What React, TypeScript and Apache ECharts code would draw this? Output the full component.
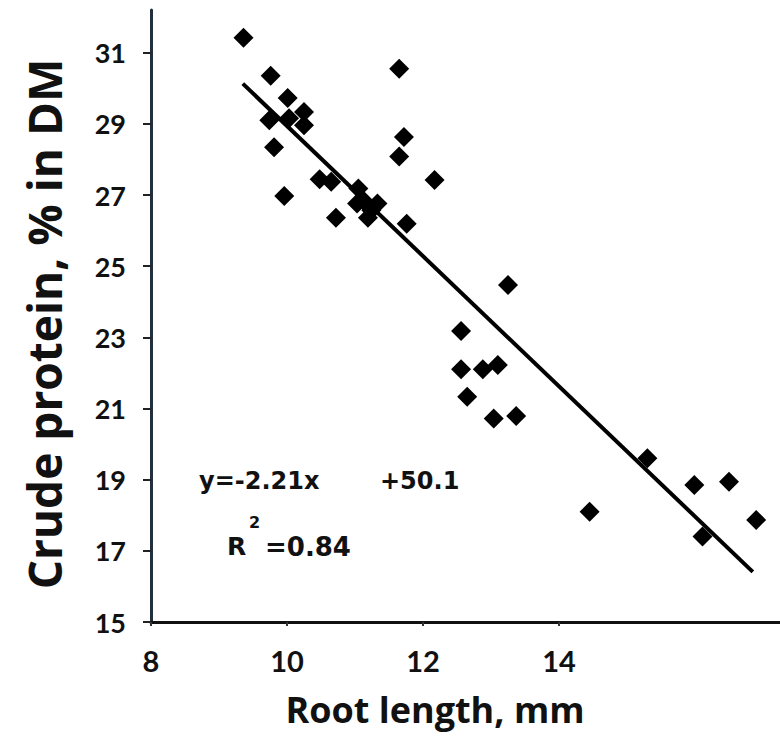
import React, { useEffect, useRef } from "react";
import * as echarts from "echarts";

// Root length (mm) vs crude protein (% in DM)
const rootLength = [
  9.36, 9.76, 11.65, 10.01, 10.25, 9.74, 10.25, 10.03, 9.81, 11.72, 11.65,
  10.48, 10.65, 9.96, 11.05, 12.17, 11.03, 11.33, 11.19, 10.72, 11.76, 11.12,
  11.24, 13.25, 12.56, 12.56, 12.88, 13.1, 12.65, 13.04, 13.37, 15.3, 15.99,
  16.5, 14.45, 16.9, 16.11,
];
const crudeProtein = [
  31.42, 30.35, 30.55, 29.73, 29.33, 29.1, 28.96, 29.16, 28.34, 28.63, 28.08,
  27.44, 27.37, 26.97, 27.18, 27.42, 26.76, 26.76, 26.36, 26.36, 26.19, 26.85,
  26.57, 24.47, 23.18, 22.1, 22.1, 22.22, 21.33, 20.72, 20.79, 19.6, 18.85,
  18.94, 18.1, 17.87, 17.4,
];
// Regression line as drawn (endpoints)
const fitX = [9.35, 16.85];
const fitY = [30.13, 16.41];

const xTicks = [8, 10, 12, 14];
const yTicks = [15, 17, 19, 21, 23, 25, 27, 29, 31];

const equationLeft = "y=-2.21x";
const equationRight = "+50.1";
const r2Value = "=0.84";

export default function App() {
  const ref = useRef<HTMLDivElement>(null);
  useEffect(() => {
    document.body.style.margin = "0";
    if (!ref.current) return;
    const chart = echarts.init(ref.current, undefined, { renderer: "svg" });
    const labelFont = "Lato";
    const annFont = "bold 24px 'DejaVu Sans'";
    const option: any = {
      animation: false,
      backgroundColor: "#ffffff",
      grid: { left: 151, right: 0, top: 10, bottom: 115 },
      xAxis: {
        type: "value",
        min: 8,
        max: 17.25,
        splitLine: { show: false },
        axisLine: { show: true, lineStyle: { color: "#111", width: 3 } },
        axisTick: {
          show: true,
          customValues: xTicks,
          length: 4,
          lineStyle: { color: "#333", width: 2 },
        },
        axisLabel: {
          customValues: xTicks,
          margin: 24,
          color: "#111",
          fontFamily: labelFont,
          fontWeight: "bold",
          fontSize: 29,
        },
      },
      yAxis: {
        type: "value",
        min: 15,
        max: 32.2,
        splitLine: { show: false },
        axisLine: { show: true, lineStyle: { color: "#22303e", width: 3 } },
        axisTick: {
          show: true,
          customValues: yTicks,
          length: 8,
          lineStyle: { color: "#222", width: 2 },
        },
        axisLabel: {
          customValues: yTicks,
          margin: 25,
          color: "#111",
          fontFamily: labelFont,
          fontWeight: "bold",
          fontSize: 27,
        },
      },
      series: [
        {
          type: "line",
          data: fitX.map((x, i) => [x, fitY[i]]),
          showSymbol: false,
          symbol: "none",
          lineStyle: { color: "#000", width: 4 },
          z: 2,
        },
        {
          type: "scatter",
          data: rootLength.map((x, i) => [x, crudeProtein[i]]),
          symbol: "diamond",
          symbolSize: 20,
          itemStyle: { color: "#000", opacity: 1 },
          z: 3,
        },
      ],
      graphic: [
        {
          type: "text",
          left: 199,
          top: 469,
          style: { text: equationLeft, font: annFont, fill: "#111" },
        },
        {
          type: "text",
          left: 380,
          top: 469,
          style: { text: equationRight, font: annFont, fill: "#111" },
        },
        {
          type: "text",
          left: 227,
          top: 534,
          style: { text: "R", font: "bold 25px 'DejaVu Sans'", fill: "#111" },
        },
        {
          type: "text",
          left: 249,
          top: 514,
          style: { text: "2", font: "bold 16px 'DejaVu Sans'", fill: "#111" },
        },
        {
          type: "text",
          left: 265,
          top: 534,
          style: { text: r2Value, font: "bold 26px 'DejaVu Sans'", fill: "#111" },
        },
        {
          type: "text",
          x: 435,
          y: 709,
          style: {
            text: "Root length, mm",
            font: "bold 36px 'Open Sans'",
            fill: "#111",
            align: "center",
            verticalAlign: "middle",
          },
        },
        {
          type: "text",
          x: 44,
          y: 324,
          rotation: Math.PI / 2,
          style: {
            text: "Crude protein, % in DM",
            font: "bold 46px 'Open Sans'",
            fill: "#111",
            align: "center",
            verticalAlign: "middle",
          },
        },
      ],
    };
    chart.setOption(option);
    return () => chart.dispose();
  }, []);
  return <div ref={ref} style={{ width: 780, height: 737 }} />;
}
